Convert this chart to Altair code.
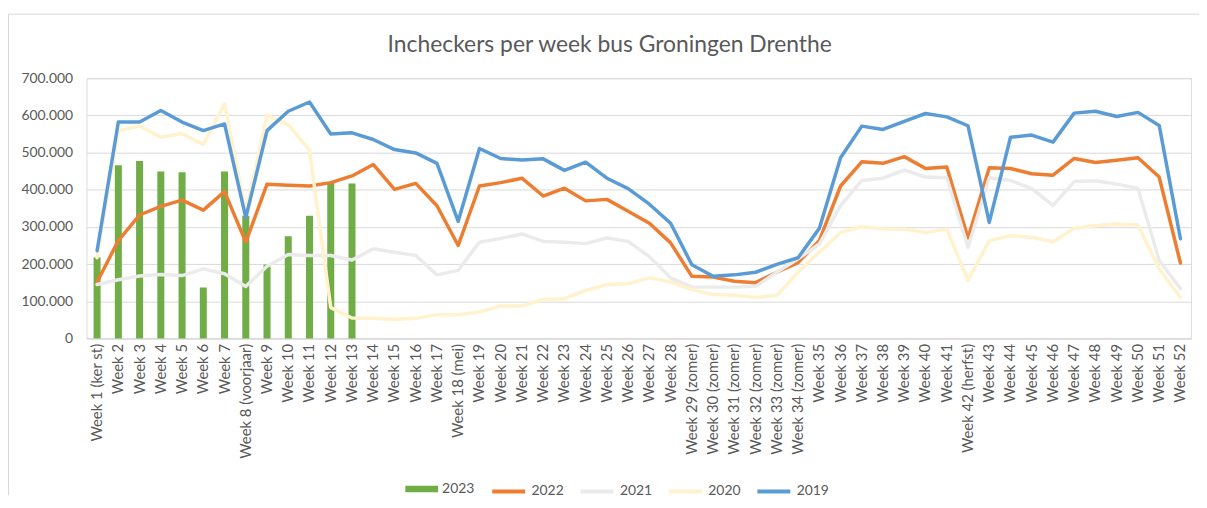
import altair as alt
import pandas as pd

weeks = ["Week 1 (ker st)"] + [f"Week {i}" for i in range(2, 8)] + ["Week 8 (voorjaar)"] + \
    [f"Week {i}" for i in range(9, 18)] + ["Week 18 (mei)"] + [f"Week {i}" for i in range(19, 29)] + \
    [f"Week {i} (zomer)" for i in range(29, 35)] + [f"Week {i}" for i in range(35, 42)] + \
    ["Week 42 (herfst)"] + [f"Week {i}" for i in range(43, 53)]

v2023 = [218, 466, 477, 449, 447, 137, 449, 330, 199, 275, 330, 419, 417]

v2022 = [152, 263, 332, 355, 372, 345, 395, 259, 415, 412, 410, 419, 437, 468, 401, 417,
         357, 250, 410, 419, 431, 383, 404, 370, 374, 342, 310, 257, 167, 165, 154, 150,
         178, 204, 263, 410, 475, 471, 489, 457, 461, 270, 459, 457, 443, 439, 484, 473,
         479, 486, 434, 203]

v2021 = [145, 158, 168, 172, 169, 187, 174, 140, 194, 226, 223, 223, 211, 241, 232, 223,
         171, 183, 259, 269, 281, 261, 259, 255, 270, 261, 220, 163, 138, 138, 138, 140,
         178, 214, 254, 357, 425, 431, 453, 434, 432, 245, 432, 425, 403, 358, 422, 424,
         415, 404, 210, 134]

v2020 = [217, 559, 571, 541, 551, 522, 631, 340, 600, 575, 506, 83, 55, 54, 51, 54,
         64, 64, 71, 87, 87, 105, 107, 129, 145, 147, 163, 152, 131, 118, 116, 110,
         116, 178, 232, 285, 301, 294, 294, 285, 294, 156, 263, 276, 272, 260, 296, 303,
         308, 305, 187, 110]

v2019 = [236, 582, 582, 613, 582, 559, 577, 325, 559, 611, 636, 550, 553, 535, 508, 499,
         471, 315, 511, 484, 480, 483, 452, 474, 431, 403, 361, 310, 198, 167, 171, 178,
         199, 217, 296, 486, 571, 562, 584, 605, 596, 572, 312, 541, 547, 528, 606, 611,
         597, 608, 573, 268]

line_years = ["2022", "2021", "2020", "2019"]
line_colors = ["#ED7D31", "#EBEBEB", "#FFF2CC", "#5B9BD5"]
series = {"2022": v2022, "2021": v2021, "2020": v2020, "2019": v2019}

bars = pd.DataFrame({"week": weeks[:len(v2023)], "value": [v * 1000 for v in v2023], "year": "2023"})
rows = []
for y in line_years:
    for w, v in zip(weeks, series[y]):
        rows.append({"week": w, "year": y, "value": v * 1000})
lines = pd.DataFrame(rows)

FONT = "Lato"
GREY = "#595959"
FRAME = "#D9D9D9"

x_enc = alt.X("week:N", sort=weeks,
              scale=alt.Scale(domain=weeks, paddingInner=0.67, paddingOuter=0.335),
              axis=alt.Axis(title=None, labelAngle=270, labelOverlap=False, ticks=False,
                            labelPadding=5, labelFont=FONT, labelFontSize=15, labelColor=GREY,
                            domainColor="#D9D9D9", labelLimit=300))
y_enc = alt.Y("value:Q", scale=alt.Scale(domain=[0, 700000], nice=False),
              axis=alt.Axis(title=None, values=[i * 100000 for i in range(8)], ticks=False,
                            domain=False, labelPadding=14, labelFont=FONT, labelFontSize=14,
                            labelColor=GREY, gridColor="#D9D9D9",
                            labelExpr="replace(format(datum.value, ','), ',', '.')"))

bar_layer = alt.Chart(bars).mark_bar().encode(
    x=x_enc, y=y_enc,
    fill=alt.Fill("year:N", scale=alt.Scale(domain=["2023"], range=["#70AD47"]),
                  legend=alt.Legend(title=None, orient="none", legendX=321, legendY=397,
                                    symbolType="M-1,-0.2H1V0.2H-1Z", symbolSize=1089,
                                    symbolStrokeWidth=0, labelFont=FONT, labelFontSize=14,
                                    labelColor=GREY, labelOffset=4, padding=0)),
)

line_layers = []
for y in line_years:
    line_layers.append(
        alt.Chart(lines).transform_filter(alt.datum.year == y).mark_line(
            strokeWidth=3.5, strokeJoin="round", strokeCap="round"
        ).encode(
            x=x_enc, y=y_enc,
            stroke=alt.Stroke("year:N", scale=alt.Scale(domain=line_years, range=line_colors),
                              legend=alt.Legend(title=None, orient="none", direction="horizontal",
                                                legendX=406, legendY=397, symbolType="stroke",
                                                symbolSize=1100, symbolStrokeWidth=4,
                                                labelFont=FONT, labelFontSize=14, labelColor=GREY,
                                                labelOffset=4, columnPadding=8, padding=0)),
        )
    )

# chart frame (top and left edges visible in the reference)
frame_df = pd.DataFrame({"k": [0]})
frame_top = alt.Chart(frame_df).mark_rule(color=FRAME, strokeWidth=1).encode(
    x=alt.value(-78.5), x2=alt.value(1120), y=alt.value(-64.5))
frame_left = alt.Chart(frame_df).mark_rule(color=FRAME, strokeWidth=1).encode(
    x=alt.value(-78.5), y=alt.value(-64.5), y2=alt.value(420))

chart = alt.layer(frame_top, frame_left, bar_layer, *line_layers).properties(
    width=1112, height=262,
    title=alt.TitleParams("Incheckers per week bus Groningen Drenthe", font=FONT, fontSize=23,
                          fontWeight="normal", color=GREY, anchor="middle", frame="bounds",
                          offset=-44, dx=6),
    autosize=alt.AutoSizeParams(type="none"),
    padding={"left": 79, "top": 69, "right": 8, "bottom": 161},
).configure_view(stroke=None).configure(background="white")

chart.save("out.html", embed_options={"renderer": "svg", "actions": False})
